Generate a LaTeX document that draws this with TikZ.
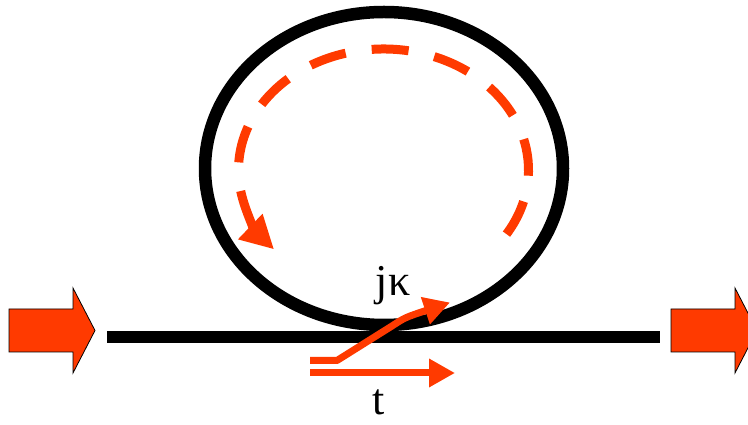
\documentclass[tikz,border=0pt]{standalone}
\usepackage{fontspec}
\setmainfont{Liberation Serif}
\usetikzlibrary{arrows.meta}
\definecolor{wred}{RGB}{255,58,0}
\begin{document}
\begin{tikzpicture}[x=1pt,y=1pt,
  blockarrow/.style={fill=wred,draw=black,line width=0.8pt,line join=miter},
  guide/.style={draw=black,line width=12.5pt},
  beam/.style={draw=wred,line width=7pt,line join=round,-{Triangle[length=26pt,width=27pt]}},
  circ/.style={draw=wred,line width=9pt},
  lbl/.style={anchor=base,inner sep=0pt,text=black}
]
\useasboundingbox (0,0) rectangle (748,425);
\coordinate (c) at (383.5,255);
% ring and bus waveguide
\draw[guide] (384,256.5) ellipse [x radius=179,y radius=156.5];
\coordinate (busL) at (107,88);
\coordinate (busR) at (660,88);
\draw[guide] (busL) -- (busR);
% input / output block arrows
\draw[blockarrow] (9,73) -- (73,73) -- (73,52) -- (95,94.5) -- (73,137) -- (73,116) -- (9,116) -- cycle;
\draw[blockarrow] (671,73) -- (735,73) -- (735,52) -- (757,94.5) -- (735,137) -- (735,116) -- (671,116) -- cycle;
% circulating light in the ring
\draw[circ,dash pattern=on 37pt off 26.3pt] ([shift={(-32:145 and 121)}]c) arc[start angle=-32,end angle=177,x radius=145,y radius=121];
\draw[circ,-{Triangle[length=33pt,width=33pt]}] ([shift={(190:145 and 121)}]c) arc[start angle=190,end angle=221,x radius=145,y radius=121];
% coupled and transmitted beams
\coordinate (kA) at (310,64.5);
\coordinate (kB) at (337,64.5);
\coordinate (kC) at (392,99);
\coordinate (kD) at (450,122.5);
\draw[beam] (kA) -- (kB) -- (kC) .. controls (405,107.5) .. (kD);
\coordinate (tA) at (310,52);
\coordinate (tB) at (455,52);
\draw[beam] (tA) -- (tB);
% labels
\node[lbl,font=\fontsize{44}{44}\selectfont] (jk) at (393,129) {jκ};
\node[lbl,font=\fontsize{44}{44}\selectfont] (t) at (379,10) {t};
\end{tikzpicture}
\end{document}
